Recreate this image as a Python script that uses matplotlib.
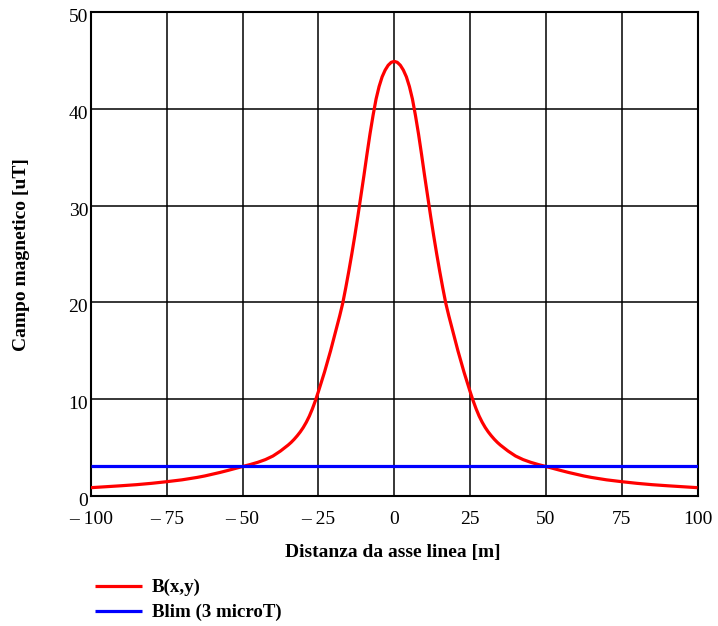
import matplotlib
matplotlib.use("Agg")
import matplotlib.pyplot as plt
from matplotlib.transforms import ScaledTranslation

# Data (curve is symmetric about the line axis)
half_distance = [0, 1, 2, 3, 4, 5, 6, 7, 8, 9, 10, 11, 12, 13, 14, 15, 16, 17, 18, 19,
                 20, 21, 22, 23, 24, 25, 26, 27, 28, 29, 30, 31, 32, 33, 34, 35, 37.5,
                 40, 42.5, 45, 47.5, 50, 52.5, 55, 57.5, 60, 62.5, 65, 70, 75, 80,
                 85, 90, 95, 100]
half_field = [44.9, 44.8, 44.5, 44.0, 43.3, 42.3, 41.0, 39.3, 37.4, 35.3, 33.1, 31.0,
              28.9, 26.9, 25.0, 23.2, 21.5, 19.9, 18.6, 17.4,
              16.2, 15.0, 13.9, 12.8, 11.8, 10.8, 9.85, 9.0, 8.25, 7.62, 7.08, 6.62,
              6.22, 5.86, 5.54, 5.26, 4.65,
              4.13, 3.76, 3.48, 3.25, 3.05, 2.84, 2.63, 2.43, 2.25, 2.07, 1.92, 1.67,
              1.48, 1.31, 1.17, 1.06, 0.96, 0.86]
distance = [-d for d in reversed(half_distance)] + half_distance[1:]
field = list(reversed(half_field)) + half_field[1:]

limit_x = [-100, 100]
limit_y = [3.07, 3.07]

x_ticks = [-100, -75, -50, -25, 0, 25, 50, 75, 100]
x_tick_labels = ["\u2013 100", "\u2013 75", "\u2013 50", "\u2013 25", "0", "25", "50", "75", "100"]
y_ticks = [0, 10, 20, 30, 40, 50]
y_tick_labels = ["0", "10", "20", "30", "40", "50"]

label_B = "B(x,y)"
label_lim = "Blim (3 microT)"
xlabel = "Distanza da asse linea [m]"
ylabel = "Campo magnetico [uT]"

plt.rcParams['font.family'] = ['Liberation Serif', 'DejaVu Serif']

fig = plt.figure(figsize=(7.18, 6.26), dpi=100)
ax = fig.add_axes([91 / 718, 1 - 496 / 626, (697.5 - 91) / 718, (496 - 12) / 626])

ax.plot(distance, field, color='#ff0000', lw=2.3, label=label_B, zorder=3,
        solid_capstyle='butt', solid_joinstyle='round')
ax.plot(limit_x, limit_y, color='#0000ff', lw=2.3, label=label_lim, zorder=3,
        solid_capstyle='butt')

ax.set_xlim(-100, 100)
ax.set_ylim(0, 50)
ax.set_xticks(x_ticks)
ax.set_xticklabels(x_tick_labels)
ax.set_yticks(y_ticks)
ax.set_yticklabels(y_tick_labels)
ax.tick_params(axis='both', length=0, labelsize=14, colors='black')
ax.tick_params(axis='x', pad=11)
ax.tick_params(axis='y', pad=2)
shift_up = ScaledTranslation(0, 3 / 100, fig.dpi_scale_trans)
for lab in ax.get_yticklabels():
    lab.set_va('top')
    lab.set_transform(lab.get_transform() + shift_up)

ax.grid(True, color='black', lw=1.1)
ax.set_axisbelow(True)
for s in ax.spines.values():
    s.set_linewidth(1.5)
    s.set_color('black')

fig.text(393 / 718, 1 - 553 / 626, xlabel, ha='center', va='center',
         fontsize=14, fontweight='bold')
fig.text(22 / 718, 1 - 255 / 626, ylabel, ha='center', va='center',
         rotation=90, fontsize=14, fontweight='bold')

leg = fig.legend(loc='upper left', bbox_to_anchor=(95 / 718, 1 - 579 / 626),
                 frameon=False, handlelength=2.5, handletextpad=0.5,
                 labelspacing=0.4, borderpad=0, borderaxespad=0,
                 prop={'weight': 'bold', 'size': 13.6})

fig.savefig("out.png", dpi=100)
